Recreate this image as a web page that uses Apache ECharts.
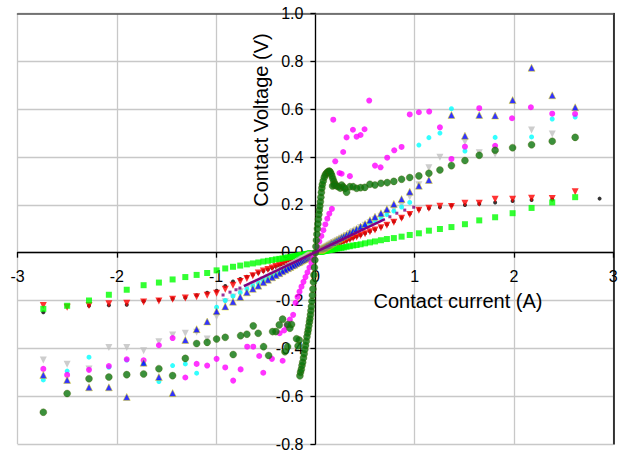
<!DOCTYPE html>
<html><head><meta charset="utf-8">
<script src="https://cdn.jsdelivr.net/npm/echarts@6/dist/echarts.min.js"></script>
<style>html,body{margin:0;padding:0;background:#fff}#c{width:619px;height:453px}</style>
</head><body><div id="c"></div>
<script>
// ---- axis settings / labels ----
const xTickValues = [-3, -2, -1, 0, 1, 2, 3];
const yTickValues = [-0.8, -0.6, -0.4, -0.2, 0.0, 0.2, 0.4, 0.6, 0.8, 1.0];
const xAxisTitle = 'Contact current (A)';
const yAxisTitle = 'Contact Voltage (V)';

// ---- shared current grids (A) ----
const currentPos = [0.05, 0.055, 0.06, 0.066, 0.072, 0.079, 0.087, 0.095, 0.105, 0.115, 0.126, 0.138, 0.151, 0.165, 0.181, 0.199, 0.218, 0.239, 0.262, 0.287, 0.314, 0.347, 0.38, 0.415, 0.455, 0.5, 0.549, 0.6, 0.66, 0.72, 0.79, 0.868, 0.95, 1.042, 1.143, 1.254, 1.37, 1.506, 1.65, 1.81, 1.986, 2.177, 2.385, 2.616, 2.862];
const currentNeg = [-0.048, -0.053, -0.058, -0.064, -0.07, -0.076, -0.084, -0.092, -0.1, -0.11, -0.121, -0.132, -0.145, -0.159, -0.174, -0.191, -0.21, -0.23, -0.252, -0.276, -0.302, -0.331, -0.363, -0.398, -0.436, -0.478, -0.524, -0.575, -0.63, -0.69, -0.757, -0.83, -0.908, -0.995, -1.09, -1.196, -1.31, -1.438, -1.576, -1.73, -1.9, -2.08, -2.28, -2.5, -2.74];

// ---- voltages (V) on those grids ----
const greenPos = [0.004, 0.004, 0.005, 0.005, 0.006, 0.006, 0.007, 0.007, 0.008, 0.009, 0.01, 0.011, 0.012, 0.013, 0.014, 0.016, 0.017, 0.019, 0.02, 0.022, 0.025, 0.027, 0.03, 0.032, 0.035, 0.039, 0.043, 0.047, 0.052, 0.057, 0.061, 0.067, 0.074, 0.081, 0.092, 0.099, 0.107, 0.119, 0.135, 0.148, 0.165, 0.187, 0.21, 0.232, null];
const greenNeg = [-0.003, -0.004, -0.004, -0.005, -0.005, -0.005, -0.006, -0.007, -0.007, -0.008, -0.009, -0.009, -0.01, -0.011, -0.012, -0.014, -0.015, -0.016, -0.018, -0.02, -0.021, -0.024, -0.026, -0.028, -0.031, -0.034, -0.037, -0.041, -0.045, -0.049, -0.054, -0.059, -0.066, -0.074, -0.085, -0.093, -0.102, -0.112, -0.125, -0.136, -0.155, -0.176, -0.2, -0.222, -0.235];
const redPos = [0.008, 0.009, 0.01, 0.011, 0.012, 0.013, 0.014, 0.015, 0.017, 0.018, 0.02, 0.022, 0.024, 0.026, 0.029, 0.032, 0.035, 0.038, 0.042, 0.046, 0.05, 0.055, 0.06, 0.066, 0.072, 0.079, 0.087, 0.095, 0.104, 0.115, 0.127, 0.144, 0.16, 0.177, 0.186, 0.194, 0.193, 0.207, 0.207, 0.223, 0.223, 0.228, 0.227, 0.255, null];
const redNeg = [-0.007, -0.008, -0.008, -0.009, -0.01, -0.011, -0.012, -0.013, -0.015, -0.016, -0.018, -0.019, -0.021, -0.023, -0.025, -0.028, -0.031, -0.034, -0.037, -0.04, -0.044, -0.048, -0.053, -0.058, -0.064, -0.07, -0.077, -0.085, -0.096, -0.108, -0.121, -0.136, -0.153, -0.17, -0.178, -0.184, -0.19, -0.195, -0.202, -0.206, -0.212, -0.214, -0.221, -0.228, -0.221];
const blackPos = [0.008, 0.009, 0.01, 0.011, 0.012, 0.013, 0.014, 0.016, 0.017, 0.019, 0.021, 0.023, 0.025, 0.027, 0.03, 0.033, 0.036, 0.039, 0.043, 0.047, 0.051, 0.056, 0.062, 0.068, 0.074, 0.081, 0.089, 0.097, 0.107, 0.118, 0.13, 0.146, 0.163, 0.181, 0.186, 0.19, 0.198, 0.199, 0.204, 0.21, 0.216, 0.22, 0.222, null, 0.226];
const blackNeg = [-0.007, -0.008, -0.008, -0.009, -0.01, -0.011, -0.012, -0.013, -0.015, -0.016, -0.018, -0.019, -0.021, -0.023, -0.025, -0.028, -0.031, -0.034, -0.037, -0.04, -0.044, -0.048, -0.053, -0.058, -0.064, -0.07, -0.077, -0.084, -0.092, -0.101, -0.11, -0.121, -0.139, -0.159, -0.168, -0.178, -0.188, -0.193, -0.198, -0.203, -0.218, -0.22, -0.222, null, -0.249];
const bluePos = [0.012, 0.013, 0.014, 0.016, 0.017, 0.019, 0.021, 0.023, 0.025, 0.028, 0.03, 0.033, 0.036, 0.04, 0.043, 0.048, 0.052, 0.057, 0.063, 0.069, 0.075, 0.083, 0.091, 0.099, 0.109, 0.12, 0.136, 0.15, 0.165, 0.182, 0.204, 0.224, 0.255, 0.28, 0.304, null, 0.576, 0.489, 0.576, 0.573, 0.638, 0.773, 0.658, 0.608, null];
const blueNeg = [-0.011, -0.013, -0.014, -0.015, -0.017, -0.018, -0.02, -0.022, -0.024, -0.026, -0.029, -0.031, -0.034, -0.038, -0.041, -0.045, -0.05, -0.054, -0.06, -0.065, -0.071, -0.078, -0.086, -0.094, -0.103, -0.113, -0.124, -0.138, -0.151, -0.166, -0.185, -0.205, -0.225, -0.245, -0.288, -0.32, -0.365, -0.587, -0.52, -0.46, -0.603, -0.563, -0.563, -0.532, -0.511];
const cyanPos = [0.011, 0.012, 0.013, 0.015, 0.016, 0.017, 0.019, 0.021, 0.023, 0.025, 0.028, 0.03, 0.033, 0.036, 0.04, 0.044, 0.048, 0.053, 0.058, 0.063, 0.069, 0.076, 0.084, 0.091, 0.1, 0.11, 0.121, 0.132, 0.146, 0.159, 0.174, 0.191, 0.21, 0.45, 0.481, 0.5, 0.602, 0.425, null, 0.482, null, 0.484, 0.559, 0.567, null];
const cyanNeg = [-0.011, -0.012, -0.013, -0.014, -0.015, -0.017, -0.018, -0.02, -0.022, -0.024, -0.027, -0.029, -0.032, -0.035, -0.038, -0.042, -0.046, -0.051, -0.055, -0.061, -0.066, -0.073, -0.08, -0.088, -0.096, -0.105, -0.115, -0.127, -0.139, -0.152, -0.167, -0.182, -0.2, -0.228, null, -0.504, -0.465, -0.472, -0.539, -0.464, -0.449, -0.479, -0.437, -0.495, -0.532];
const grayPos = [0.012, 0.013, 0.014, 0.015, 0.017, 0.018, 0.02, 0.022, 0.024, 0.026, 0.029, 0.032, 0.035, 0.038, 0.042, 0.046, 0.05, 0.055, 0.06, 0.066, 0.072, 0.08, 0.087, 0.095, 0.105, 0.115, 0.126, 0.138, 0.152, 0.166, 0.182, 0.2, 0.234, 0.284, 0.355, 0.399, null, 0.464, 0.418, 0.411, null, 0.513, 0.496, null, null];
const grayNeg = [-0.01, -0.011, -0.012, -0.014, -0.015, -0.016, -0.018, -0.02, -0.022, -0.024, -0.026, -0.028, -0.031, -0.034, -0.037, -0.041, -0.045, -0.049, -0.054, -0.059, -0.065, -0.071, -0.078, -0.086, -0.094, -0.103, -0.113, -0.124, -0.135, -0.148, -0.163, -0.185, -0.205, -0.267, -0.361, -0.333, -0.337, -0.344, -0.372, -0.41, -0.397, -0.397, -0.486, -0.467, -0.449];

// ---- series with their own current values: [current, voltage] ----
const purpleLine = [[-0.72, -0.14], [0.7, 0.14]];
const purpleDots = [[-0.93, -0.177], [-0.86, -0.165], [-0.8, -0.155], [-0.76, -0.148], [0.75, 0.15], [0.82, 0.165], [0.9, 0.178], [0.99, 0.19]];
const magentaSteep = [[-0.2, -0.21], [-0.18, -0.185], [-0.16, -0.163], [-0.14, -0.142], [-0.12, -0.122], [-0.1, -0.102], [-0.08, -0.082], [-0.06, -0.062], [-0.04, -0.042], [-0.02, -0.022], [0, 0], [0.02, 0.023], [0.04, 0.047], [0.06, 0.07], [0.08, 0.094], [0.1, 0.118], [0.12, 0.142], [0.14, 0.163], [0.166, 0.183]];
const magentaScatter = [[0.18, 0.556], [0.2, 0.382], [0.243, 0.333], [0.264, 0.33], [0.28, 0.421], [0.314, 0.482], [0.347, 0.32], [0.378, 0.514], [0.415, 0.485], [0.455, 0.492], [0.495, 0.516], [0.542, 0.636], [0.6, 0.364], [0.656, 0.357], [0.723, 0.397], [0.794, 0.428], [0.868, 0.442], [0.95, 0.578], [1.042, 0.587], [1.146, 0.59], [1.254, 0.524], [1.37, 0.392], [1.506, 0.443], [1.65, 0.604], [1.81, 0.447], [1.98, 0.562], [2.17, 0.608], [2.385, 0.581], [2.615, 0.58],
  [-0.224, -0.26], [-0.257, -0.28], [-0.29, -0.305], [-0.315, -0.325], [-0.36, -0.337], [-0.33, -0.452], [-0.438, -0.444], [-0.525, -0.502], [-0.566, -0.432], [-0.626, -0.393], [-0.687, -0.393], [-0.753, -0.488], [-0.828, -0.535], [-0.908, -0.48], [-0.995, -0.444], [-1.09, -0.472], [-1.196, -0.465], [-1.31, -0.522], [-1.438, -0.357], [-1.576, -0.387], [-1.73, -0.45], [-1.9, -0.446], [-2.08, -0.474], [-2.28, -0.49], [-2.5, -0.511], [-2.74, -0.486]];
const darkGreenSteep = [[-0.156, -0.515], [-0.15, -0.5], [-0.142, -0.488], [-0.135, -0.472], [-0.128, -0.458], [-0.12, -0.44], [-0.113, -0.423], [-0.106, -0.405], [-0.099, -0.388], [-0.092, -0.37], [-0.085, -0.352], [-0.078, -0.336], [-0.072, -0.322], [-0.066, -0.306], [-0.06, -0.29], [-0.055, -0.276], [-0.05, -0.26], [-0.045, -0.243], [-0.04, -0.225], [-0.035, -0.203], [-0.03, -0.178], [-0.025, -0.152], [-0.02, -0.123], [-0.015, -0.093], [-0.01, -0.062], [-0.005, -0.031], [0, 0], [0.005, 0.026], [0.01, 0.052], [0.015, 0.077], [0.02, 0.1], [0.025, 0.12], [0.03, 0.14], [0.035, 0.16], [0.04, 0.178], [0.045, 0.195], [0.05, 0.213], [0.055, 0.232], [0.06, 0.252], [0.065, 0.27], [0.07, 0.285], [0.079, 0.3], [0.09, 0.315], [0.1, 0.326], [0.113, 0.333], [0.125, 0.338], [0.138, 0.341], [0.146, 0.339], [0.156, 0.332], [0.165, 0.322], [0.175, 0.31], [0.185, 0.298], [0.196, 0.288], [0.173, 0.279], [0.188, 0.283], [0.21, 0.28], [0.23, 0.276], [0.25, 0.27], [0.264, 0.283], [0.28, 0.275], [0.297, 0.268], [0.314, 0.253]];
const darkGreenScatter = [[0.347, 0.276], [0.38, 0.276], [0.415, 0.269], [0.455, 0.272], [0.498, 0.273], [0.549, 0.286], [0.6, 0.283], [0.66, 0.29], [0.723, 0.293], [0.79, 0.298], [0.868, 0.307], [0.95, 0.314], [1.042, 0.321], [1.143, 0.332], [1.254, 0.346], [1.37, 0.364], [1.506, 0.385], [1.65, 0.407], [1.81, 0.428], [1.986, 0.439], [2.177, 0.451], [2.385, 0.466], [2.616, 0.482],
  [-0.163, -0.365], [-0.175, -0.39], [-0.19, -0.36], [-0.24, -0.3], [-0.257, -0.316], [-0.28, -0.393], [-0.28, -0.3], [-0.307, -0.414], [-0.33, -0.278], [-0.364, -0.302], [-0.398, -0.33], [-0.431, -0.33], [-0.471, -0.43], [-0.522, -0.393], [-0.576, -0.337], [-0.626, -0.306], [-0.69, -0.341], [-0.753, -0.347], [-0.828, -0.426], [-0.908, -0.354], [-0.995, -0.361], [-1.09, -0.375], [-1.196, -0.38], [-1.31, -0.442], [-1.438, -0.514], [-1.576, -0.485], [-1.73, -0.507], [-1.9, -0.51], [-2.08, -0.52], [-2.28, -0.527], [-2.5, -0.589], [-2.74, -0.667]];

// ---- build [x,y] tables from the arrays ----
function pairs(xs, ys) { const out = []; xs.forEach((x, i) => { if (ys[i] !== null) out.push([x, ys[i]]); }); return out; }
function both(p, n) { return pairs(currentPos, p).concat(pairs(currentNeg, n)); }

// ---- layout ----
const W = 619, H = 453;
const G = { left: 17.5, right: 5.7, top: 13.5, bottom: 9 };
const xMin = xTickValues[0], xMax = xTickValues[xTickValues.length - 1];
const yMin = yTickValues[0], yMax = yTickValues[yTickValues.length - 1];
const plotW = W - G.left - G.right, plotH = H - G.top - G.bottom;
const zeroX = G.left + plotW * (0 - xMin) / (xMax - xMin);   // where the vertical axis crosses
const zeroY = G.top + plotH * (yMax - 0) / (yMax - yMin);    // where the horizontal axis crosses

const FONT = '"Liberation Sans", Arial, sans-serif';
const LABEL = { fontSize: 16, fontFamily: FONT, color: '#000' };
function sc(name, data, symbol, size, color, extra) {
  return Object.assign({ name, type: 'scatter', data, symbol, symbolSize: size,
    itemStyle: { color: color }, xAxisIndex: 0, yAxisIndex: 0, silent: true }, extra || {});
}
const hidden = { show: false };

const chart = echarts.init(document.getElementById('c'), null, { renderer: 'svg' });
chart.setOption({
  animation: false,
  backgroundColor: '#ffffff',
  grid: [
    { left: G.left, right: G.right, top: G.top, bottom: G.bottom, containLabel: false, outerBoundsMode: 'none' },
    // helper grid whose bottom edge is the y = 0 line (carries the horizontal axis)
    { left: G.left, right: G.right, top: G.top, height: zeroY - G.top, containLabel: false, outerBoundsMode: 'none' },
    // helper grid whose left edge is the x = 0 line (carries the vertical axis)
    { left: zeroX, width: W - G.right - zeroX, top: G.top, bottom: G.bottom, containLabel: false, outerBoundsMode: 'none' }
  ],
  xAxis: [{
    gridIndex: 0, type: 'value', min: xMin, max: xMax, interval: 1,
    axisLine: hidden, axisTick: hidden, axisLabel: hidden,
    splitLine: { show: true, lineStyle: { color: '#c8c8c8', width: 1.3 } }
  }, {
    gridIndex: 0, type: 'value', position: 'top', min: xMin, max: xMax, interval: 1,
    axisLine: { show: true, onZero: false, lineStyle: { color: '#555', width: 1.5 } },
    axisTick: hidden, axisLabel: hidden, splitLine: hidden
  }, {
    gridIndex: 1, type: 'value', position: 'bottom', min: xMin, max: xMax, interval: 1,
    axisLine: { show: true, onZero: false, lineStyle: { color: '#000', width: 1.3 } },
    axisTick: { show: true, length: 5, lineStyle: { color: '#000', width: 1.3 } },
    axisLabel: Object.assign({ margin: 16, formatter: v => String(v) }, LABEL),
    splitLine: hidden
  }, {
    gridIndex: 2, type: 'value', min: 0, max: 1, show: false
  }],
  yAxis: [{
    gridIndex: 0, type: 'value', min: yMin, max: yMax, interval: 0.2,
    axisLine: hidden, axisTick: hidden, axisLabel: hidden,
    splitLine: { show: true, lineStyle: { color: '#c8c8c8', width: 1.3 } }
  }, {
    gridIndex: 0, type: 'value', position: 'right', min: yMin, max: yMax, interval: 0.2,
    axisLine: { show: true, onZero: false, lineStyle: { color: '#000', width: 1.5 } },
    axisTick: hidden, axisLabel: hidden, splitLine: hidden
  }, {
    gridIndex: 1, type: 'value', min: 0, max: 1, show: false
  }, {
    gridIndex: 2, type: 'value', position: 'left', min: yMin, max: yMax, interval: 0.2,
    axisLine: { show: true, onZero: false, lineStyle: { color: '#000', width: 1.3 } },
    axisTick: { show: true, length: 5, lineStyle: { color: '#000', width: 1.3 } },
    axisLabel: Object.assign({ margin: 12, formatter: v => v.toFixed(1) }, LABEL),
    splitLine: hidden
  }],
  graphic: [
    { type: 'text', x: 458, y: 301, silent: true, z: 100,
      style: { text: xAxisTitle, fontSize: 20, fontFamily: FONT, fill: '#000', align: 'center', verticalAlign: 'middle' } },
    { type: 'text', x: 261, y: 120, rotation: Math.PI / 2, silent: true, z: 100,
      style: { text: yAxisTitle, fontSize: 20, fontFamily: FONT, fill: '#000', align: 'center', verticalAlign: 'middle' } }
  ],
  series: [
    sc('black', both(blackPos, blackNeg), 'circle', 4, '#000000'),
    sc('red', both(redPos, redNeg), 'triangle', 7, '#ff0000', { symbolRotate: 180 }),
    sc('green', both(greenPos, greenNeg), 'rect', 6, '#00ff00'),
    sc('gray', both(grayPos, grayNeg), 'triangle', 7, '#c0c0c0', { symbolRotate: 180 }),
    sc('cyan', both(cyanPos, cyanNeg), 'circle', 5, '#00ffff'),
    sc('magenta', magentaScatter, 'circle', 6, '#ff00ff'),
    sc('blue', both(bluePos, blueNeg), 'triangle', 7, '#0000ff', { itemStyle: { color: '#0000ff', borderColor: '#e8e000', borderWidth: 0.6 } }),
    { name: 'purple line', type: 'line', data: purpleLine, symbol: 'none', silent: true, xAxisIndex: 0, yAxisIndex: 0,
      lineStyle: { color: '#800080', width: 2.5 } },
    sc('purple', purpleDots, 'rect', 3, '#800080'),
    sc('magenta steep', magentaSteep, 'circle', 6, '#ff00ff'),
    sc('dark green', darkGreenScatter.concat(darkGreenSteep), 'circle', 7, '#0a740a', { itemStyle: { color: '#0a740a', borderColor: '#4a5a00', borderWidth: 0.4 } })
  ]
});
</script></body></html>
